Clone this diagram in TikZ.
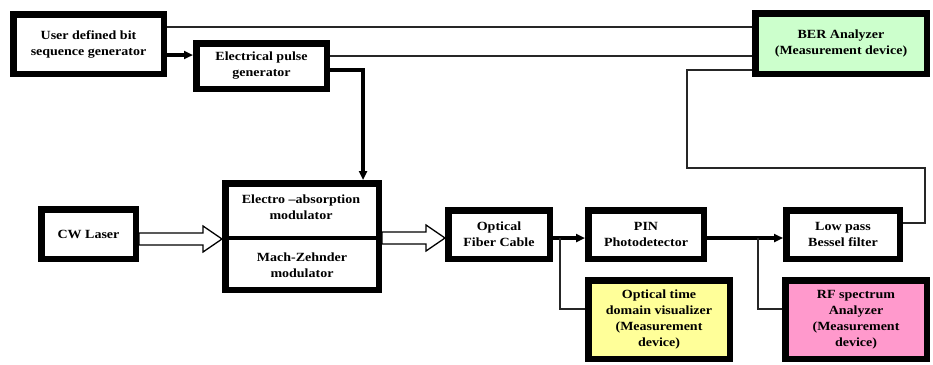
\documentclass[tikz,border=0pt]{standalone}
\usepackage{fontspec}
\setmainfont{Liberation Serif}[FakeStretch=1.12]
\usetikzlibrary{arrows.meta,calc}
\definecolor{bergreen}{RGB}{204,255,204}
\definecolor{otyellow}{RGB}{255,255,153}
\definecolor{rfpink}{RGB}{255,153,204}
\tikzset{
  box/.style={draw=black, line width=6.5pt, fill=white, inner sep=0pt, align=center,
    font=\fontsize{12.5}{16}\selectfont\bfseries},
  lbl/.style={inner sep=0pt, align=center, font=\fontsize{12.5}{16}\selectfont\bfseries},
  thinline/.style={draw=black!85, line width=1.8pt},
  thickline/.style={draw=black, line width=3.2pt},
  sig/.style={thickline, -{Triangle[length=9pt,width=8pt]}},
  hollow/.style={draw=black, line width=1.3pt, fill=white, line join=miter},
}
\newcommand\hollowarrow[3]{%
  \draw[hollow] let \p1=(#1.east), \p2=(#2.west) in
   (\x1,\y1-#3+6pt) -- (\x2-19pt,\y1-#3+6pt) -- (\x2-19pt,\y1-#3+13pt) --
   (\x2,\y1-#3) -- (\x2-19pt,\y1-#3-13pt) -- (\x2-19pt,\y1-#3-6pt) --
   (\x1,\y1-#3-6pt) -- cycle;}
\begin{document}
\begin{tikzpicture}[x=1pt,y=-1pt]
\useasboundingbox (0,0) rectangle (933,364);
% boxes
\node[box, minimum width=150.5pt, minimum height=59.5pt] (user) at (88.5,44) {User defined bit\\sequence generator};
\node[box, minimum width=130.5pt, minimum height=45.5pt] (epg) at (261.5,66) {Electrical pulse\\generator};
\node[box, fill=bergreen, minimum width=171.5pt, minimum height=60.5pt] (ber) at (841,43.5) {BER Analyzer\\(Measurement device)};
\node[box, minimum width=94.5pt, minimum height=49.5pt] (cw) at (88.5,234) {CW Laser};
\node[box, minimum width=153.5pt, minimum height=106.5pt] (mod) at (302,236.5) {};
\draw[line width=4.5pt] ([yshift=-1.5pt]mod.west) -- ([yshift=-1.5pt]mod.east);
\node[lbl] (ea) at (301,207) {Electro –absorption\\modulator};
\node[lbl] (mz) at (302,265) {Mach-Zehnder\\modulator};
\node[box, minimum width=101.5pt, minimum height=48.5pt] (ofc) at (499,234.5) {Optical\\Fiber Cable};
\node[box, minimum width=115.5pt, minimum height=48.5pt] (pin) at (646,234.5) {PIN\\Photodetector};
\node[box, minimum width=113.5pt, minimum height=48.5pt] (lpf) at (843,234.5) {Low pass\\Bessel filter};
\node[box, fill=otyellow, minimum width=141.5pt, minimum height=78.5pt] (otdv) at (659,319.5) {Optical time\\domain visualizer\\(Measurement\\device)};
\node[box, fill=rfpink, minimum width=141.5pt, minimum height=78.5pt] (rf) at (856,319.5) {RF spectrum\\Analyzer\\(Measurement\\device)};
% thin lines to BER
\draw[thinline] ([yshift=17pt]user.east) coordinate (u1) -- (u1 -| ber.west);
\draw[thinline] ([yshift=10pt]epg.east) coordinate (e1) -- (e1 -| ber.west);
% user -> epg
\draw[sig] ([yshift=-11pt]user.east) coordinate (u2) -- (u2 -| epg.west);
% epg -> modulator
\draw[sig] ([yshift=-4pt]epg.east) -| ([xshift=61pt]mod.north);
% hollow optical arrows
\hollowarrow{cw}{mod}{5pt}
\hollowarrow{mod}{ofc}{1.5pt}
% fibre chain
\draw[sig] ([yshift=-3.5pt]ofc.east) coordinate (o1) -- (o1 -| pin.west);
\draw[sig] ([yshift=-3.5pt]pin.east) coordinate (p1) -- (p1 -| lpf.west);
\coordinate (b1) at ($(o1)+(7,0)$);
\coordinate (b2) at ($(p1)+(51,0)$);
\draw[thinline] (b1) |- ([yshift=10.5pt]otdv.west);
\draw[thinline] (b2) |- ([yshift=10.5pt]rf.west);
% lpf -> BER feedback
\coordinate (c1) at (925,168);
\coordinate (c2) at (687,70);
\draw[thinline] ([yshift=11.5pt]lpf.east) -| (c1) -| (c2) -- (c2 -| ber.west);
\end{tikzpicture}
\end{document}
